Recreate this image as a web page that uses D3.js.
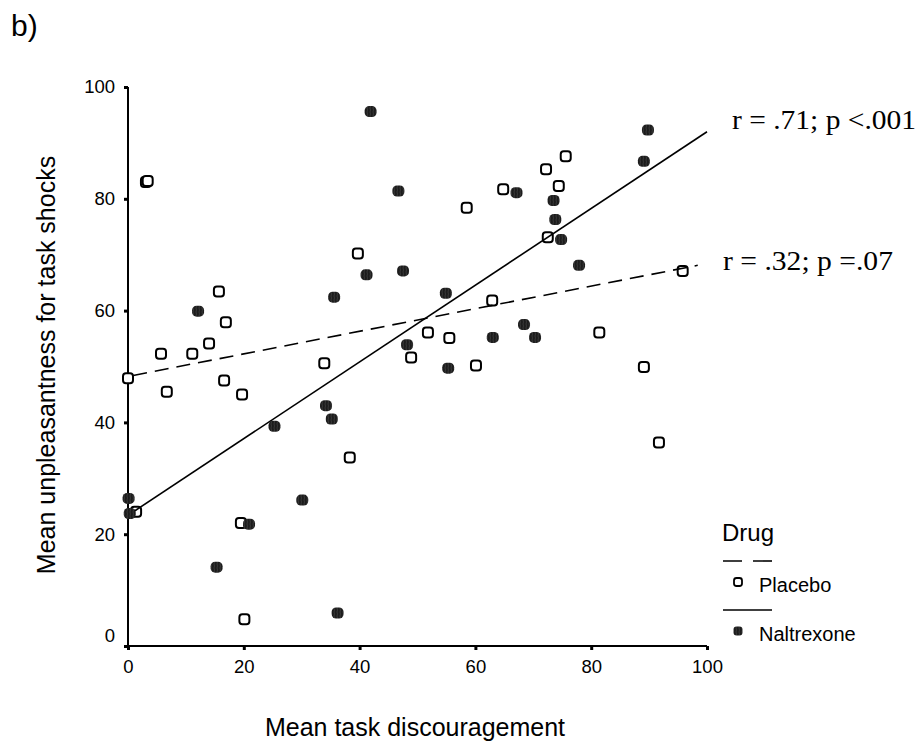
<!DOCTYPE html>
<html>
<head>
<meta charset="utf-8">
<script src="https://cdn.jsdelivr.net/npm/d3@7"></script>
<style>
  body { margin: 0; background: #fff; }
  text { font-family: "Liberation Sans", Arial, sans-serif; fill: #000; }
</style>
</head>
<body>
<svg id="chart" width="922" height="746"></svg>
<script>
// placebo points [x, y]
var placebo = [
  [3.1, 83.0], [3.4, 83.2], [5.7, 52.3], [11.1, 52.3], [14.0, 54.1], [15.7, 63.4],
  [16.9, 57.9], [6.7, 45.5], [16.6, 47.5], [19.7, 45.0], [0.0, 47.9], [1.4, 24.0],
  [19.5, 22.0], [20.1, 4.8], [33.9, 50.6], [38.3, 33.7], [39.7, 70.2], [58.5, 78.4],
  [64.8, 81.7], [72.2, 85.3], [75.6, 87.6], [74.4, 82.3], [72.5, 73.1], [95.8, 67.1],
  [62.9, 61.8], [51.8, 56.1], [55.5, 55.1], [81.4, 56.1], [48.9, 51.6], [60.1, 50.2],
  [89.1, 49.9], [91.7, 36.4]
];

// naltrexone points [x, y]
var naltrexone = [
  [41.9, 95.6], [12.1, 59.9], [35.6, 62.4], [41.2, 66.4], [46.7, 81.4], [89.8, 92.3],
  [89.1, 86.7], [67.1, 81.1], [73.5, 79.7], [73.8, 76.3], [74.8, 72.7], [77.9, 68.1],
  [47.5, 67.1], [54.9, 63.1], [48.2, 53.9], [68.4, 57.5], [63.0, 55.2], [70.3, 55.2],
  [55.3, 49.7], [34.2, 43.0], [35.2, 40.6], [25.3, 39.3], [0.1, 26.4], [0.3, 23.7],
  [30.1, 26.1], [20.9, 21.8], [15.3, 14.1], [36.2, 5.9]
];

// fit lines
var placeboFit = [[0.9, 48.4], [98.4, 68.1]];
var naltrexoneFit = [[1.2, 24.2], [100, 92.0]];

var xTicks = [0, 20, 40, 60, 80, 100];
var yTicks = [0, 20, 40, 60, 80, 100];

var svg = d3.select("#chart");

var x = d3.scaleLinear().domain([0, 100]).range([128, 707]);
var y = d3.scaleLinear().domain([0, 100]).range([646, 87]);

// pattern for the dark markers
var defs = svg.append("defs");
var pat = defs.append("pattern")
  .attr("id", "dark")
  .attr("patternUnits", "userSpaceOnUse")
  .attr("width", 3).attr("height", 4);
pat.append("rect").attr("width", 3).attr("height", 4).attr("fill", "#1c1c1c");
pat.append("path").attr("d", "M1,0 Q2,2 1,4").attr("stroke", "#4a4a4a")
  .attr("stroke-width", 0.6).attr("fill", "none");

svg.append("text").attr("x", 11).attr("y", 36)
  .style("font-size", "30px").text("b)");

// axes
var xAxis = svg.append("g").attr("transform", "translate(0,646)")
  .call(d3.axisBottom(x).tickValues(xTicks).tickSize(4).tickPadding(10));
var yAxis = svg.append("g").attr("transform", "translate(128,0)")
  .call(d3.axisLeft(y).tickValues(yTicks).tickSize(4).tickPadding(9));

[xAxis, yAxis].forEach(function (g) {
  g.select(".domain").attr("stroke", "#000").attr("stroke-width", 2);
  g.selectAll(".tick line").attr("stroke", "#000").attr("stroke-width", 3);
  g.selectAll(".tick text").style("font-size", "18.5px")
    .style("font-family", "'Liberation Sans', Arial, sans-serif").attr("fill", "#000");
});
xAxis.select(".domain").attr("d", "M128,0H707");
yAxis.select(".domain").attr("d", "M0,87V646");
yAxis.selectAll(".tick text").filter(function (d) { return d === 0; }).attr("dy", "-0.25em");

// axis titles
svg.append("text").attr("x", 415).attr("y", 736).attr("text-anchor", "middle")
  .style("font-size", "25px").text("Mean task discouragement");
svg.append("text").attr("transform", "translate(55,365) rotate(-90)")
  .attr("text-anchor", "middle").style("font-size", "25px")
  .text("Mean unpleasantness for task shocks");

// points
svg.append("g").selectAll("rect").data(placebo).join("rect")
  .attr("x", function (d) { return x(d[0]) - 5; })
  .attr("y", function (d) { return y(d[1]) - 5; })
  .attr("width", 10).attr("height", 10).attr("rx", 3)
  .attr("fill", "#fff").attr("stroke", "#000").attr("stroke-width", 2);

svg.append("g").selectAll("rect").data(naltrexone).join("rect")
  .attr("x", function (d) { return x(d[0]) - 6; })
  .attr("y", function (d) { return y(d[1]) - 5.5; })
  .attr("width", 12).attr("height", 11).attr("rx", 4.5)
  .attr("fill", "url(#dark)");

// fit lines
var line = d3.line().x(function (d) { return x(d[0]); }).y(function (d) { return y(d[1]); });
svg.append("path").datum(placeboFit).attr("d", line)
  .attr("stroke", "#000").attr("stroke-width", 1.6).attr("fill", "none")
  .attr("stroke-dasharray", "14,8");
svg.append("path").datum(naltrexoneFit).attr("d", line)
  .attr("stroke", "#000").attr("stroke-width", 1.6).attr("fill", "none");

// annotations
var serif = "'Liberation Serif', 'Times New Roman', serif";
svg.append("text").attr("x", 732).attr("y", 129)
  .style("font-family", serif).style("font-size", "27px")
  .attr("textLength", 184).attr("lengthAdjust", "spacingAndGlyphs")
  .text("r = .71; p <.001");
svg.append("text").attr("x", 723).attr("y", 270)
  .style("font-family", serif).style("font-size", "27px")
  .attr("textLength", 170).attr("lengthAdjust", "spacingAndGlyphs")
  .text("r = .32; p =.07");

// legend
var lg = svg.append("g");
lg.append("text").attr("x", 722).attr("y", 541).style("font-size", "24px").text("Drug");
lg.append("line").attr("x1", 723).attr("x2", 772).attr("y1", 561).attr("y2", 561)
  .attr("stroke", "#000").attr("stroke-width", 1.6).attr("stroke-dasharray", "19,11");
lg.append("rect").attr("x", 734).attr("y", 578).attr("width", 8).attr("height", 8).attr("rx", 2.5)
  .attr("fill", "#fff").attr("stroke", "#000").attr("stroke-width", 1.8);
lg.append("text").attr("x", 759).attr("y", 592).style("font-size", "20px").text("Placebo");
lg.append("line").attr("x1", 723).attr("x2", 772).attr("y1", 610).attr("y2", 610)
  .attr("stroke", "#000").attr("stroke-width", 1.6);
lg.append("rect").attr("x", 733.5).attr("y", 626.5).attr("width", 9).attr("height", 9).attr("rx", 3)
  .attr("fill", "url(#dark)");
lg.append("text").attr("x", 759).attr("y", 641).style("font-size", "20px").text("Naltrexone");
</script>
</body>
</html>
